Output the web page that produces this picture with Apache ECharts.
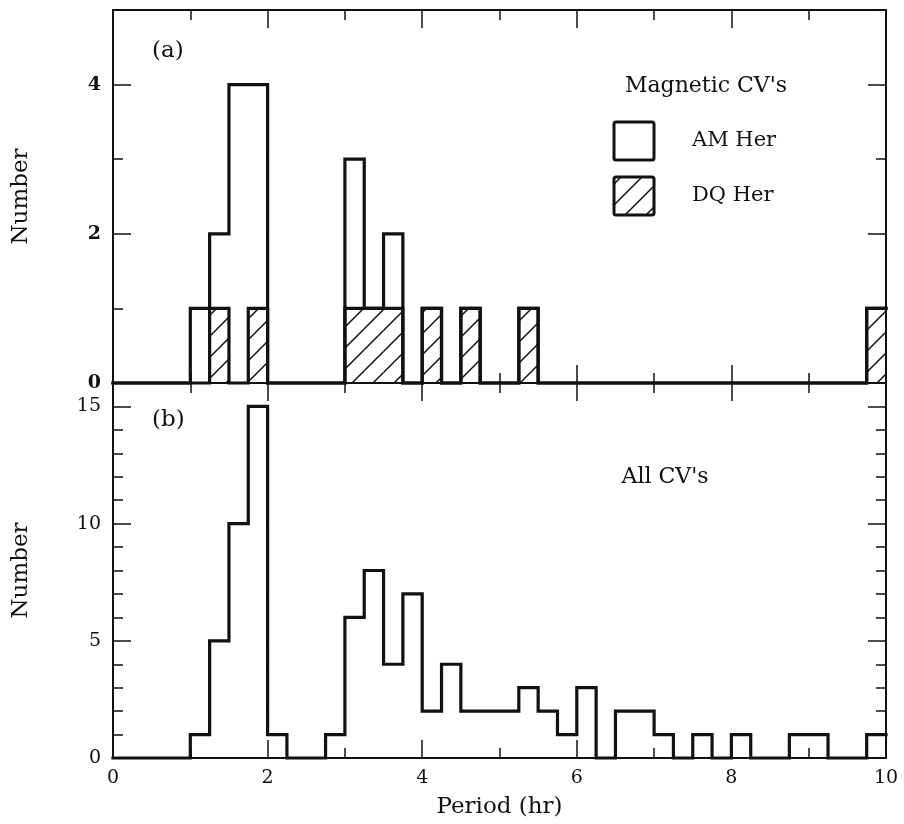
<!DOCTYPE html>
<html>
<head>
<meta charset="utf-8">
<script src="https://cdn.jsdelivr.net/npm/echarts@6/dist/echarts.min.js"></script>
<style>
html,body{margin:0;padding:0;background:#fff;}
#chart{width:904px;height:824px;}
</style>
</head>
<body>
<div id="chart"></div>
<script>
// ---- Data (bins of 0.25 hr from 0 to 10 hr) ----
const binStart = 0;
const binWidth = 0.25;
// Panel (a): Magnetic CVs, counts per bin (stacked: AM Her on top of DQ Her)
const amHer = [0,0,0,0, 1,1,4,3, 0,0,0,0, 2,0,1,0, 0,0,0,0, 0,0,0,0, 0,0,0,0, 0,0,0,0, 0,0,0,0, 0,0,0,0];
const dqHer = [0,0,0,0, 0,1,0,1, 0,0,0,0, 1,1,1,0, 1,0,1,0, 0,1,0,0, 0,0,0,0, 0,0,0,0, 0,0,0,0, 0,0,0,1];
// Panel (b): All CVs
const allCVs = [0,0,0,0, 1,5,10,15, 1,0,0,1, 6,8,4,7, 2,4,2,2, 2,3,2,1, 3,0,2,2, 1,0,1,0, 1,0,0,1, 1,0,0,1];
// Tick labels
const xTicks = [0,2,4,6,8,10];
const yTicksA = [0,2,4];
const yTicksB = [0,5,10,15];

// ---- Helpers ----
const INK = '#111';
const SERIF = "'DejaVu Serif', 'Liberation Serif', serif";
function stepData(counts){
  const pts = counts.map((c,i)=>[binStart + i*binWidth, c]);
  pts.push([binStart + counts.length*binWidth, counts[counts.length-1]]);
  return pts;
}
const magneticTotal = amHer.map((v,i)=>v + dqHer[i]);
const hatchBins = [];
dqHer.forEach((c,i)=>{ if(c>0) hatchBins.push([binStart+i*binWidth, binStart+(i+1)*binWidth, c]); });

function makeHatch(){
  const s = 21;
  const c = document.createElement('canvas'); c.width = s; c.height = s;
  const g = c.getContext('2d');
  g.strokeStyle = INK; g.lineWidth = 1.5;
  g.beginPath();
  g.moveTo(0,s); g.lineTo(s,0);
  g.moveTo(-3,3); g.lineTo(3,-3);
  g.moveTo(s-3,s+3); g.lineTo(s+3,s-3);
  g.stroke();
  return c;
}
const hatch = {image: makeHatch(), repeat: 'repeat'};

const G = {left:113, width:773};
const grids = [
  {left:G.left, width:G.width, top:10, height:373},
  {left:G.left, width:G.width, top:383, height:375}
];

function xAxis(grid, pos, showLabel){
  return {
    type:'value', gridIndex:grid, position:pos, min:0, max:10, interval:2,
    axisLine:{show:true, onZero:false, lineStyle:{color:INK, width:2}},
    axisTick:{show:true, inside:true, length:18, lineStyle:{color:INK, width:1.5}},
    minorTick:{show:true, splitNumber:2, length:10, lineStyle:{color:INK, width:1.5}},
    splitLine:{show:false}, minorSplitLine:{show:false},
    axisLabel:{show:showLabel, color:INK, fontFamily:SERIF, fontSize:19, margin:11,
      formatter:(v)=> xTicks.includes(v) ? String(v) : ''},
    name: showLabel ? 'Period (hr)' : '',
    nameLocation:'middle', nameGap:38,
    nameTextStyle:{color:INK, fontFamily:SERIF, fontSize:23}
  };
}
function yAxis(grid, pos, max, interval, tickLen, showLabel, labelSet, bold, name){
  return {
    type:'value', gridIndex:grid, position:pos, min:0, max:max, interval:interval,
    axisLine:{show:true, onZero:false, lineStyle:{color:INK, width:2}},
    axisTick:{show:true, inside:true, length:tickLen, lineStyle:{color:INK, width:1.5}},
    splitLine:{show:false},
    axisLabel:{show:showLabel, color:INK, fontFamily:SERIF, fontSize:19, margin:12,
      fontWeight: bold ? 'bold' : 'normal', showMaxLabel:false,
      formatter:(v)=> labelSet && labelSet.includes(v) ? String(v) : ''},
    name: name || '', nameLocation:'middle', nameGap:80,
    nameTextStyle:{color:INK, fontFamily:SERIF, fontSize:23}
  };
}

const option = {
  backgroundColor:'#fff',
  animation:false,
  grid: grids,
  xAxis: [
    xAxis(0,'bottom',false), xAxis(0,'top',false),
    xAxis(1,'bottom',true), xAxis(1,'top',false)
  ],
  yAxis: [
    yAxis(0,'left',5,2,18,true,yTicksA,true,'Number'),
    yAxis(0,'left',5,1,10,false),
    yAxis(0,'right',5,2,18,false),
    yAxis(0,'right',5,1,10,false),
    yAxis(1,'left',16,5,18,true,yTicksB,false,'Number'),
    yAxis(1,'left',16,1,10,false),
    yAxis(1,'right',16,5,18,false),
    yAxis(1,'right',16,1,10,false)
  ],
  series: [
    {
      type:'custom', name:'DQ Her fill', xAxisIndex:0, yAxisIndex:0, z:1,
      data: hatchBins,
      renderItem:(params, api)=>{
        const p0 = api.coord([api.value(0), api.value(2)]);
        const p1 = api.coord([api.value(1), 0]);
        return {type:'rect', shape:{x:p0[0], y:p0[1], width:p1[0]-p0[0], height:p1[1]-p0[1]},
          style:{fill:hatch, stroke:null}};
      },
      clip:false
    },
    {
      type:'line', name:'DQ Her', xAxisIndex:0, yAxisIndex:0, step:'end', z:3,
      data: stepData(dqHer), symbol:'none', clip:false,
      lineStyle:{color:INK, width:3.2, join:'miter', cap:'square'}
    },
    {
      type:'line', name:'Magnetic CVs', xAxisIndex:0, yAxisIndex:0, step:'end', z:3,
      data: stepData(magneticTotal), symbol:'none', clip:false,
      lineStyle:{color:INK, width:3.2, join:'miter', cap:'square'}
    },
    {
      type:'line', name:'All CVs', xAxisIndex:2, yAxisIndex:4, step:'end', z:3,
      data: stepData(allCVs), symbol:'none', clip:false,
      lineStyle:{color:INK, width:3.2, join:'miter', cap:'square'}
    }
  ],
  graphic: [
    {type:'text', left:152, top:40, style:{text:'(a)', fill:INK, font:"23px 'DejaVu Serif'"}},
    {type:'text', left:152, top:409, style:{text:'(b)', fill:INK, font:"23px 'DejaVu Serif'"}},
    {type:'text', x:706, y:86, style:{text:"Magnetic CV's", fill:INK, font:"22px 'DejaVu Serif'", align:'center', verticalAlign:'middle'}},
    {type:'rect', shape:{x:614, y:122, width:40, height:38, r:2}, style:{fill:'#fff', stroke:INK, lineWidth:3}},
    {type:'text', x:692, y:141, style:{text:'AM Her', fill:INK, font:"21px 'DejaVu Serif'", align:'left', verticalAlign:'middle'}},
    {type:'rect', shape:{x:614, y:177, width:40, height:38, r:2}, style:{fill:hatch, stroke:INK, lineWidth:3}},
    {type:'text', x:692, y:196, style:{text:'DQ Her', fill:INK, font:"21px 'DejaVu Serif'", align:'left', verticalAlign:'middle'}},
    {type:'text', x:665, y:477, style:{text:"All CV's", fill:INK, font:"22px 'DejaVu Serif'", align:'center', verticalAlign:'middle'}}
  ]
};

const chart = echarts.init(document.getElementById('chart'), null, {renderer:'canvas'});
chart.setOption(option);
</script>
</body>
</html>
